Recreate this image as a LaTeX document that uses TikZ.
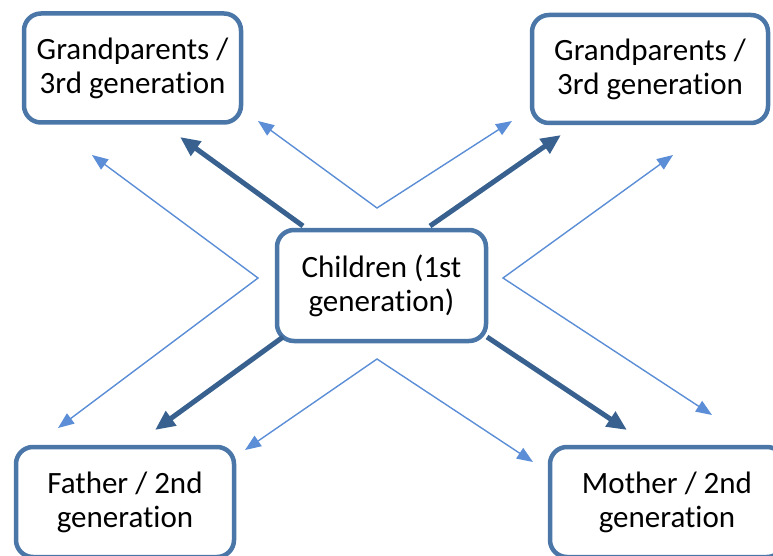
\documentclass[tikz,border=0pt]{standalone}
\usepackage{fontspec}
\setmainfont[Ligatures=NoCommon,Contextuals=NoAlternate]{Carlito}
\usetikzlibrary{arrows.meta}
\definecolor{boxblue}{HTML}{4A76A8}
\definecolor{darkarrow}{HTML}{38618F}
\definecolor{lightarrow}{HTML}{5B8ED6}

\begin{document}
\begin{tikzpicture}[x=1pt,y=-1pt,
  genbox/.style={draw=boxblue,line width=4.5pt,rounded corners=17pt,fill=white,
    align=center,inner sep=0pt,font=\fontsize{31}{34}\selectfont},
  strong/.style={draw=darkarrow,line width=5pt,-{Triangle[length=20pt,width=17pt]}},
  weakV/.style={draw=lightarrow,line width=1.4pt,
    {Triangle[length=16pt,width=12.5pt]}-{Triangle[length=16pt,width=12.5pt]}}]
  \useasboundingbox (0,0) rectangle (773,556);
  \clip (0,0) rectangle (773,556);
  % boxes
  \node[genbox,minimum width=217pt,minimum height=109pt] (gpl) at (132.5,68) {Grandparents /\\3rd generation};
  \node[genbox,minimum width=236pt,minimum height=108pt] (gpr) at (650,69) {Grandparents /\\3rd generation};
  \node[genbox,minimum width=209pt,minimum height=111pt] (kids) at (381.5,285.5) {Children (1st\\generation)};
  \node[genbox,minimum width=218pt,minimum height=110pt] (father) at (125,502) {Father / 2nd\\generation};
  \node[genbox,minimum width=234pt,minimum height=110pt] (mother) at (667,502) {Mother / 2nd\\generation};
  % end points of the arrows
  \coordinate (kTL) at (303,226); \coordinate (kTR) at (430,226);
  \coordinate (kBL) at (283,337); \coordinate (kBR) at (487,337);
  \coordinate (gplTip) at (180,137); \coordinate (gprTip) at (561,135);
  \coordinate (fatTip) at (155,430); \coordinate (motTip) at (627,430);
  \coordinate (vTop) at (377,208); \coordinate (vLeft) at (258,278);
  \coordinate (vBot) at (377,359); \coordinate (vRight) at (503,278);
  % direct links
  \draw[strong] (kTL) -- (gplTip);
  \draw[strong] (kTR) -- (gprTip);
  \draw[strong] (kBL) -- (fatTip);
  \draw[strong] (kBR) -- (motTip);
  % indirect links
  \draw[weakV] (258,121) -- (vTop) -- (512,121);
  \draw[weakV] (92,155) -- (vLeft) -- (58,428);
  \draw[weakV] (245,450) -- (vBot) -- (533,462);
  \draw[weakV] (673,155) -- (vRight) -- (712,415);
\end{tikzpicture}
\end{document}
